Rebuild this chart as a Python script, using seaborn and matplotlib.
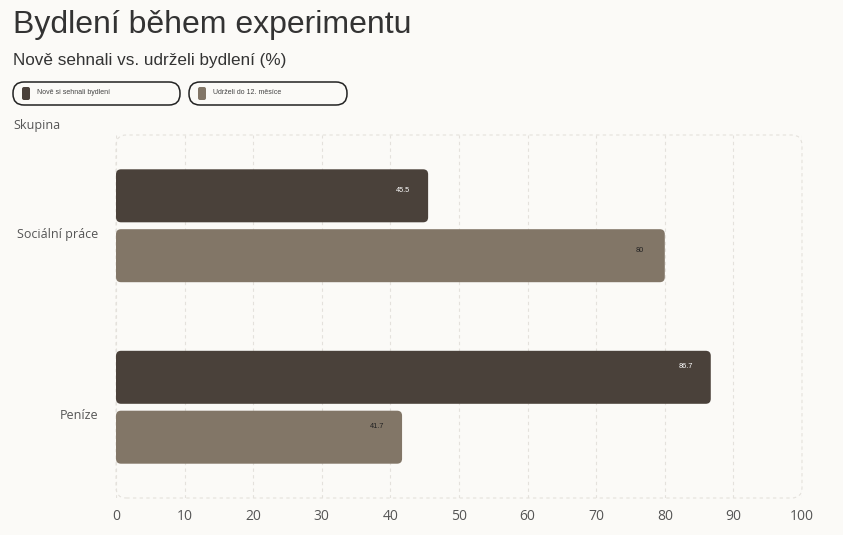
import pandas as pd
import matplotlib
matplotlib.use("Agg")
from matplotlib import pyplot as plt
from matplotlib.patches import FancyBboxPatch
import matplotlib.transforms as mtransforms
import seaborn as sns

# data
groups = ["Sociální práce", "Peníze"]
series_names = ["Nově si sehnali bydlení", "Udrželi do 12. měsíce"]
new_housing = [45.5, 86.7]
kept_12m = [80, 41.7]
x_ticks = [0, 10, 20, 30, 40, 50, 60, 70, 80, 90, 100]

BG = "#fbfaf7"
DARK = "#4a413a"
LIGHT = "#827667"
GRID = "#e4e1dc"
palette = {series_names[0]: DARK, series_names[1]: LIGHT}

df = pd.DataFrame({
    "Skupina": groups * 2,
    "Série": [series_names[0]] * len(groups) + [series_names[1]] * len(groups),
    "Hodnota": new_housing + kept_12m,
})

sns.set_theme(style="white")
plt.rcParams["font.family"] = ["Open Sans", "DejaVu Sans"]

fig = plt.figure(figsize=(8.43, 5.35), dpi=100, facecolor=BG)
ax = fig.add_axes([116 / 843, 1 - 498 / 535, (802 - 116) / 843, (498 - 135) / 535])
ax.set_facecolor(BG)

BAR_W = 0.66
sns.barplot(data=df, y="Skupina", x="Hodnota", hue="Série", order=groups,
            hue_order=series_names, palette=palette, orient="h",
            width=BAR_W, gap=0.115, saturation=1, legend=False, ax=ax)

ax.set_xlim(0, 100)
ax.set_ylim(1.5, -0.5)

# swap the square bars for rounded ones
px_x = ax.get_window_extent().width / 100.0
px_y = ax.get_window_extent().height / 2.0
for p in list(ax.patches):
    x0, y0, w, h = p.get_x(), p.get_y(), p.get_width(), p.get_height()
    col = p.get_facecolor()
    p.remove()
    r = 5 / px_x
    ax.add_patch(FancyBboxPatch((x0, y0), w, h,
                                boxstyle=f"round,pad=0,rounding_size={r}",
                                mutation_aspect=px_x / px_y,
                                facecolor=col, edgecolor="none", zorder=3))

# value labels inside the bar ends
for i, g in enumerate(groups):
    for j, (vals, tc) in enumerate([(new_housing, "white"), (kept_12m, "#222222")]):
        v = vals[i]
        y = i + (j - 0.5) * BAR_W / 2
        ax.annotate(f"{v:g}", xy=(v, y), xytext=(-18, 4 + 3.5 * i), textcoords="offset points",
                    ha="center", va="center", fontsize=5.3, color=tc,
                    family=["Liberation Sans", "DejaVu Sans"], zorder=4)

# grid and frame
ax.set_xticks(x_ticks)
ax.xaxis.grid(True, linestyle=(0, (3, 3)), color=GRID, linewidth=0.8, zorder=0)
ax.set_axisbelow(True)
for s in ax.spines.values():
    s.set_visible(False)
frame = FancyBboxPatch((0, 0), 1, 1, boxstyle="round,pad=0,rounding_size=0.015",
                       transform=ax.transAxes, mutation_aspect=686 / 363,
                       facecolor="none", edgecolor=GRID, linestyle=(0, (3, 3)),
                       linewidth=0.8, clip_on=False, zorder=0)
ax.add_patch(frame)

ax.tick_params(axis="x", length=0, pad=8, labelsize=10, labelcolor="#555555")
ax.tick_params(axis="y", length=7, color=GRID, pad=6, labelsize=9, labelcolor="#555555")
ax.set_xlabel("")
ax.set_ylabel("")
shift = mtransforms.ScaledTranslation(0, -7 / 100, fig.dpi_scale_trans)
for lab in ax.get_yticklabels():
    lab.set_transform(lab.get_transform() + shift)

# titles
fig.text(13 / 843, 1 - 25 / 535, "Bydlení během experimentu", fontsize=23,
         color="#333333", va="center", family=["Liberation Sans", "DejaVu Sans"])
fig.text(13 / 843, 1 - 60 / 535, "Nově sehnali vs. udrželi bydlení (%)", fontsize=12.3,
         color="#333333", va="center", family=["Liberation Sans", "DejaVu Sans"])
fig.text(13 / 843, 1 - 126 / 535, "Skupina", fontsize=9, color="#555555", va="center")

# legend pills
pills = [(13, 180, DARK, series_names[0]), (189, 347, LIGHT, series_names[1])]
for x0, x1, col, name in pills:
    fig.patches.append(FancyBboxPatch((x0 / 843, 1 - 105 / 535), (x1 - x0) / 843, 23 / 535,
                                      boxstyle=f"round,pad=0,rounding_size={11 / 843}",
                                      mutation_aspect=843 / 535,
                                      transform=fig.transFigure, facecolor="none",
                                      edgecolor="#222222", linewidth=1.1))
    fig.patches.append(FancyBboxPatch(((x0 + 9) / 843, 1 - 100 / 535), 8 / 843, 13 / 535,
                                      boxstyle=f"round,pad=0,rounding_size={2 / 843}",
                                      mutation_aspect=843 / 535,
                                      transform=fig.transFigure, facecolor=col,
                                      edgecolor="none"))
    fig.text((x0 + 24) / 843, 1 - 93 / 535, name, fontsize=5, color="#444444",
             va="center", family=["Liberation Sans", "DejaVu Sans"])

fig.savefig("out.png", dpi=100, facecolor=BG)
plt.close()
